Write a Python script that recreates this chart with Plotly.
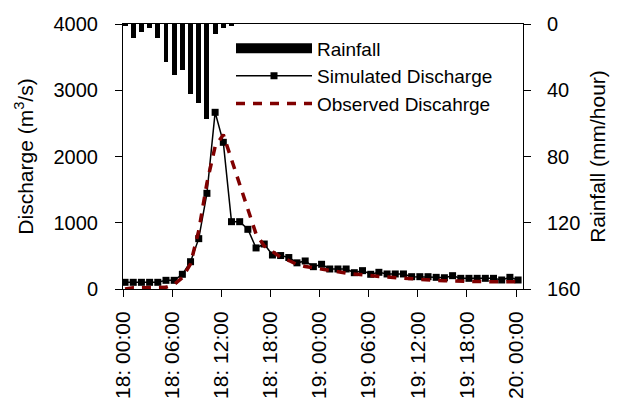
import plotly.graph_objects as go
import pandas as pd

# ---- data ----
start_time = "2004-07-18 00:15"
n_hours = 49
times = pd.date_range(start_time, periods=n_hours, freq="h")

rainfall = [1.2, 8.3, 5.0, 2.6, 8.3, 23.0, 31.0, 28.0, 42.0, 47.5, 57.5, 6.0, 2.6, 1.2]

simulated = [101, 101, 101, 101, 101, 131, 131, 222, 412, 760,
             1444, 2667, 2214, 1016, 1016, 901, 620, 679, 513, 505,
             475, 395, 423, 337, 373, 302, 302, 302, 246, 277,
             222, 252, 227, 227, 227, 186, 186, 186, 176, 170,
             201, 161, 161, 161, 161, 161, 136, 176, 136]

observed = [0, 20, 20, 20, 20, 25, 70, 170, 380, 880,
            1600, 2150, 2330, 1950, 1600, 1200, 830, 650, 560, 480,
            430, 370, 340, 320, 290, 270, 255, 240, 225, 210,
            200, 190, 180, 170, 160, 150, 145, 140, 130, 125,
            120, 115, 110, 110, 110, 110, 110, 110, 110]

x_range = ["2004-07-18 00:00", "2004-07-20 00:51"]
tick0 = "2004-07-18 00:00"
y_ticks = [0, 1000, 2000, 3000, 4000]
y2_ticks = [0, 40, 80, 120, 160]

FONT = "Arial, Liberation Sans, sans-serif"
DARKRED = "#800000"

fig = go.Figure()

# legend-only entry for rainfall (wide bar symbol)
fig.add_trace(go.Scatter(x=[None], y=[None], mode="lines", name="Rainfall",
                         line=dict(color="black", width=13), yaxis="y2"))
fig.add_trace(go.Bar(x=times[:len(rainfall)], y=rainfall, yaxis="y2",
                     marker=dict(color="black", line=dict(width=0)),
                     width=0.6 * 3600 * 1000, showlegend=False, name="Rainfall"))
fig.add_trace(go.Scatter(x=times, y=simulated, mode="lines+markers",
                         name="Simulated Discharge",
                         line=dict(color="black", width=1.5),
                         marker=dict(symbol="square", size=7, color="black")))
fig.add_trace(go.Scatter(x=times, y=observed, mode="lines",
                         name="Observed Discahrge",
                         line=dict(color=DARKRED, width=3.5, dash="9px,8px")))

fig.update_layout(
    width=627, height=403,
    margin=dict(l=115, r=112, t=16, b=122, pad=0, autoexpand=False),
    paper_bgcolor="white", plot_bgcolor="white",
    font=dict(family=FONT, size=20, color="black"),
    showlegend=True,
    legend=dict(x=0.27, y=0.98, xanchor="left", yanchor="top",
                bgcolor="rgba(0,0,0,0)", font=dict(size=19, family=FONT),
                itemwidth=76, tracegroupgap=0),
    bargap=0,
    xaxis=dict(type="date", range=x_range, tick0=tick0, dtick=6 * 3600 * 1000,
               tickformat="%d: %H:%M", tickangle=-90, automargin=False,
               showline=True, linecolor="black", linewidth=1, mirror=True,
               ticks="outside", ticklen=7, tickcolor="black",
               showgrid=False, zeroline=False,
               tickfont=dict(size=21), ticklabelstandoff=6),
    yaxis=dict(range=[0, 4000], tickvals=y_ticks, automargin=False,
               showline=True, linecolor="black", linewidth=1,
               ticks="outside", ticklen=7, tickcolor="black",
               showgrid=False, zeroline=False,
               tickfont=dict(size=20), ticklabelstandoff=13,
               title=dict(text="Discharge (m<sup>3</sup>/s)", font=dict(size=21), standoff=14)),
    yaxis2=dict(range=[160, 0], tickvals=y2_ticks, overlaying="y", side="right",
                automargin=False,
                showline=True, linecolor="black", linewidth=1,
                ticks="outside", ticklen=7, tickcolor="black",
                showgrid=False, zeroline=False,
                tickfont=dict(size=20), ticklabelstandoff=12,
                title=dict(text="Rainfall (mm/hour)", font=dict(size=21), standoff=10)),
)

fig.write_html("out.html")
